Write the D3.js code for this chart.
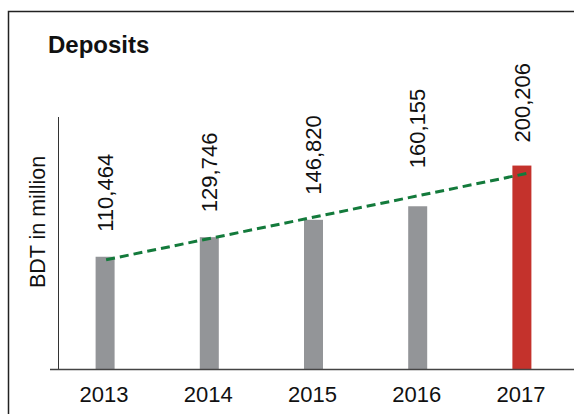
<!DOCTYPE html>
<html>
<head>
<meta charset="utf-8">
<script src="https://cdn.jsdelivr.net/npm/d3@7"></script>
<style>
body { margin: 0; background: #fff; }
svg { display: block; font-family: "Liberation Sans", Arial, sans-serif; }
</style>
</head>
<body>
<svg width="574" height="414"></svg>
<script>
var years = ["2013", "2014", "2015", "2016", "2017"],
	deposits = [110464, 129746, 146820, 160155, 200206],
	labelNudge = [0, 0, 0, 13, -2]; // hand placed labels in the original

var svg = d3.select("svg"),
	baseY = 369,
	barW = 19;

var x = d3.scalePoint().domain(years).range([53, 574]).padding(0.5),
	y = d3.scaleLinear().domain([0, 248000]).range([baseY, 117]);

// frame
svg.append("rect")
	.attr("x", 8.5).attr("y", 11.5)
	.attr("width", 600).attr("height", 450)
	.attr("fill", "none")
	.attr("stroke", "#222")
	.attr("stroke-width", 1.5);

svg.append("text")
	.attr("x", 48).attr("y", 53)
	.style("font-size", "24px")
	.style("font-weight", "bold")
	.attr("fill", "#111")
	.text("Deposits");

// y axis, no ticks
svg.append("line")
	.attr("x1", 58.5).attr("x2", 58.5)
	.attr("y1", y(248000)).attr("y2", baseY)
	.attr("stroke", "#333").attr("stroke-width", 1);

svg.append("text")
	.attr("transform", "translate(37,222) rotate(-90)")
	.attr("text-anchor", "middle")
	.attr("dy", "0.35em")
	.style("font-size", "21.5px")
	.attr("fill", "#111")
	.text("BDT in million");

svg.selectAll(".bar")
	.data(deposits)
	.enter().append("rect")
	.attr("class", "bar")
	.attr("x", function(d, i){ return x(years[i]) - barW/2 })
	.attr("y", function(d){ return y(d) })
	.attr("width", barW)
	.attr("height", function(d){ return baseY - y(d) })
	.attr("fill", function(d, i){ return i == years.length-1 ? "#c4322c" : "#939598" });

// linear trend of the deposits
var n = deposits.length,
	mx = d3.mean(d3.range(n)),
	my = d3.mean(deposits),
	slope = d3.sum(deposits, function(d, i){ return (i-mx)*(d-my) }) / d3.sum(d3.range(n), function(i){ return (i-mx)*(i-mx) }),
	icpt = my - slope*mx,
	step = x.step(),
	t1 = n - 1 + 6/step;

svg.append("line")
	.attr("x1", x(years[0]) + 1)
	.attr("y1", y(icpt))
	.attr("x2", x(years[0]) + t1*step)
	.attr("y2", y(icpt + slope*t1))
	.attr("stroke", "#137a3b")
	.attr("stroke-width", 3)
	.attr("stroke-dasharray", "9,5");

// baseline
svg.append("line")
	.attr("x1", 50).attr("x2", 574)
	.attr("y1", baseY + 0.5).attr("y2", baseY + 0.5)
	.attr("stroke", "#444").attr("stroke-width", 1.5);

svg.selectAll(".val")
	.data(deposits)
	.enter().append("text")
	.attr("class", "val")
	.attr("transform", function(d, i){
		return "translate(" + x(years[i]) + "," + (y(d) - 25 - labelNudge[i]) + ") rotate(-90)" })
	.attr("dy", "0.35em")
	.style("font-size", "22px")
	.attr("fill", "#111")
	.text(function(d){ return d3.format(",")(d) });

svg.selectAll(".yr")
	.data(years)
	.enter().append("text")
	.attr("class", "yr")
	.attr("x", function(d){ return x(d) - 1 })
	.attr("y", 402)
	.attr("text-anchor", "middle")
	.style("font-size", "22px")
	.attr("fill", "#111")
	.text(function(d){ return d });
</script>
</body>
</html>
